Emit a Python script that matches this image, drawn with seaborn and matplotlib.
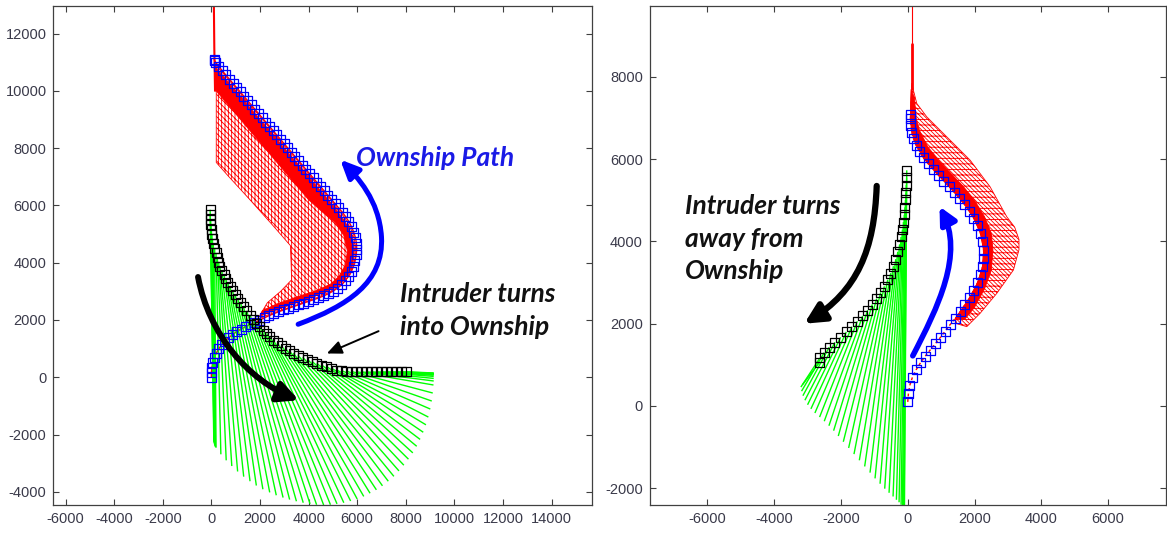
import numpy as np
import matplotlib
matplotlib.use("Agg")
import matplotlib.pyplot as plt
import seaborn as sns
from matplotlib.collections import LineCollection
from matplotlib.patches import FancyArrowPatch, Polygon
from matplotlib.path import Path

# ---------------- left panel: intruder turns into ownship ----------------
# ownship positions (blue squares)
own_l_x = [0, 0, 20, 60, 120, 200, 300, 420, 560, 710, 870, 1040, 1220, 1400, 1590,
           1780, 1975, 2170, 2370, 2570, 2775, 2980, 3185, 3390, 3595, 3800, 4005, 4210,
           4415, 4620, 4820, 5010, 5190, 5360, 5510, 5640, 5750, 5840, 5910, 5960, 5980,
           5970, 5930, 5860, 5770, 5660, 5530, 5390, 5240, 5090,
           4940, 4790, 4640, 4490, 4340, 4190, 4040, 3890, 3740, 3590, 3440, 3290, 3140,
           2990, 2840, 2690, 2540, 2390, 2240, 2090, 1940, 1790, 1640, 1490, 1340, 1190,
           1040, 890, 740, 590, 440, 300, 180, 130, 120]
own_l_y = [0, 170, 340, 510, 680, 840, 990, 1130, 1260, 1380, 1490, 1590, 1680, 1760, 1840,
           1910, 1990, 2070, 2150, 2220, 2290, 2350, 2410, 2470, 2530, 2590, 2650, 2710,
           2770, 2840, 2920, 3010, 3110, 3230, 3370, 3530, 3700, 3880, 4070, 4270, 4470,
           4670, 4870, 5060, 5250, 5430, 5600, 5760, 5910, 6060,
           6210, 6360, 6510, 6660, 6810, 6960, 7110, 7260, 7410, 7560, 7710, 7860, 8010,
           8160, 8310, 8460, 8610, 8760, 8910, 9060, 9210, 9360, 9510, 9660, 9810, 9960,
           10110, 10260, 10410, 10560, 10710, 10860, 10990, 11060, 11100]

# intruder positions (black squares)
intr_l_x = [-50, -45, -35, -20, 0, 20, 45, 80, 135, 190, 245, 300, 354, 430, 520, 600, 680,
            766, 870, 975, 1085, 1200, 1313, 1450, 1590, 1725, 1865, 2000, 2140, 2275, 2410,
            2548, 2713, 2878, 3043, 3208, 3372, 3565, 3757, 3950, 4142, 4335, 4540, 4747,
            4953, 5159, 5365, 5570, 5776, 5982, 6190, 6395, 6600, 6805, 7010, 7215, 7420,
            7625, 7830, 8040]
intr_l_y = [5850, 5680, 5510, 5340, 5170, 5000, 4830, 4660, 4500, 4340, 4180, 4020, 3860,
            3720, 3580, 3440, 3300, 3161, 3020, 2880, 2740, 2600, 2463, 2318, 2173, 2028,
            1883, 1766, 1650, 1533, 1416, 1299, 1206, 1113, 1021, 928, 835, 765, 695, 626,
            556, 486, 428, 370, 310, 252, 230, 212, 200, 192, 190, 190, 190, 190, 190, 190,
            190, 190, 190, 190]

# end points of the intruder projections (green lines), one per intruder position
green_l_x = [100, 110, 120, 130, 140, 150, 160, 170,
             190, 390, 610, 840, 1080, 1330, 1590, 1850, 2120, 2400, 2670, 2950, 3220, 3500,
             3780, 4060, 4330, 4620, 4900, 5170, 5450, 5730, 6000, 6270, 6530, 6790, 7040,
             7280, 7510, 7720, 7920, 8110, 8290, 8450, 8590, 8720, 8830, 8930, 9010, 9070,
             9110, 9140,
             9150, 9150, 9150, 9150, 9150, 9150, 9150, 9150, 9150, 9150]
green_l_y = [-2250, -2280, -2310, -2340, -2370, -2400, -2420, -2440,
             -2460, -2690, -2900, -3100, -3290, -3470, -3630, -3780, -3910, -4020, -4120,
             -4200, -4270, -4330, -4380, -4420, -4450, -4460, -4450, -4420, -4380, -4320,
             -4250, -4160, -4050, -3930, -3790, -3630, -3460, -3270, -3070, -2860, -2640,
             -2410, -2170, -1920, -1660, -1390, -1110, -830, -550, -270,
             -130, -40, 30, 70, 100, 110, 120, 130, 140, 150]

# ownship predicted-path envelope (red hatched area) and its dense core
red_l_x = [150, 1000, 2000, 3000, 4000, 5000, 5500, 5850, 5950, 5900, 5720, 5400, 5000,
           4400, 3700, 3000, 2400, 1900, 2300, 2850, 3300, 3280, 3250, 2500, 1500, 700,
           200, 200]
red_l_y = [10950, 10100, 9100, 8100, 7100, 6100, 5560, 5000, 4450, 3950, 3600, 3280, 3030,
           2800, 2580, 2380, 2200, 2020, 2600, 3000, 3400, 4000, 4600, 5330, 6280, 7020,
           7500, 10000]
core_l_x = [150, 1000, 2000, 3000, 4000, 5000, 5450, 5800, 5880, 5830, 5650, 5350, 4950,
            4400, 3700, 3000, 2400, 2000, 2100, 2700, 3500, 4300, 4900, 5250, 5500, 5600,
            5450, 5100, 4600, 4000, 3000, 2000, 1000, 200]
core_l_y = [10850, 10000, 9000, 8000, 7000, 6000, 5500, 4950, 4450, 3950, 3620, 3320, 3080,
            2880, 2660, 2450, 2270, 2130, 2330, 2560, 2800, 3020, 3250, 3520, 3900, 4400,
            4950, 5400, 5750, 6200, 7200, 8200, 9200, 10000]
red_top_l_x = [150, 120, 100]
red_top_l_y = [10000, 11500, 13200]

# ---------------- right panel: intruder turns away from ownship ----------------
own_r_x = [0, 20, 60, 140, 250, 380, 520, 670, 820, 970, 1120, 1270, 1420, 1570, 1710,
           1850, 1980, 2090, 2180, 2240, 2270, 2270, 2240, 2180, 2090, 1980, 1850, 1710,
           1560, 1400, 1240, 1080, 920, 760, 610, 470, 350, 250, 170, 120, 90, 80, 80]
own_r_y = [100, 300, 500, 700, 880, 1050, 1210, 1360, 1510, 1660, 1820, 1980, 2130, 2290,
           2460, 2630, 2810, 3000, 3190, 3390, 3590, 3790, 3990, 4190, 4380, 4560, 4730,
           4890, 5040, 5190, 5330, 5470, 5610, 5750, 5890, 6030, 6180, 6340, 6500, 6660,
           6820, 6980, 7080]

intr_r_x = [-30, -35, -45, -55, -70, -85, -105, -130, -160, -200, -245, -300, -360, -430,
            -510, -600, -700, -810, -930, -1060, -1200, -1350, -1510, -1670, -1840, -2010,
            -2180, -2350, -2500, -2630, -2650]
intr_r_y = [5730, 5550, 5370, 5190, 5010, 4830, 4650, 4470, 4290, 4110, 3930, 3750, 3570,
            3400, 3230, 3070, 2910, 2760, 2610, 2470, 2330, 2190, 2060, 1930, 1800, 1670,
            1550, 1430, 1300, 1170, 1050]

green_r_x = [-100, -110, -130, -160, -200, -260, -340, -440, -560, -690, -830, -980, -1130,
             -1290, -1450, -1610, -1770, -1930, -2080, -2220, -2360, -2500, -2640, -2780,
             -2900, -3000, -3080, -3140, -3180, -3200, -3150]
green_r_y = [-2600, -2550, -2500, -2450, -2400, -2340, -2280, -2200, -2110, -2010, -1890,
             -1760, -1620, -1470, -1320, -1170, -1020, -870, -730, -600, -480, -370, -270,
             -170, -70, 30, 140, 250, 360, 460, 520]

red_r_x = [1470, 1767, 2165, 2666, 3163, 3330, 3330, 3200, 2965, 2465, 1866, 1168, 569, 270,
           168, 120, 80, 80, 120, 250, 470, 760, 1080, 1400, 1710, 1980, 2180, 2270, 2240,
           2090, 1850, 1570, 1420]
red_r_y = [2000, 1929, 2253, 2739, 3305, 3800, 4050, 4350, 4600, 5329, 5978, 6544, 7030,
           7356, 7679, 7850, 7300, 6980, 6660, 6340, 6030, 5750, 5470, 5190, 4890, 4560,
           4190, 3790, 3390, 3000, 2630, 2290, 2130]
core_r_x = [1420, 1850, 2090, 2240, 2270, 2180, 1980, 1710, 1400, 1080, 760, 470, 250, 120,
            80, 100, 200, 250, 350, 600, 950, 1300, 1650, 2000, 2300, 2500, 2550, 2500, 2300,
            2000, 1700]
core_r_y = [2130, 2630, 3000, 3390, 3790, 4190, 4560, 4890, 5190, 5470, 5750, 6030, 6340,
            6660, 6980, 7700, 7500, 7000, 6700, 6300, 5950, 5650, 5350, 5000, 4600, 4200,
            3800, 3300, 2850, 2400, 2100]
red_top_r_x = [120, 120, 120]
red_top_r_y = [7700, 8800, 9900]

# ---------------- drawing ----------------
sns.set_style("ticks")
plt.rcParams["font.family"] = ["Liberation Sans", "DejaVu Sans"]
plt.rcParams["axes.unicode_minus"] = False
plt.rcParams["hatch.linewidth"] = 0.6
plt.rcParams["hatch.color"] = "red"

fig = plt.figure(figsize=(11.67, 5.36), dpi=100)
ax1 = fig.add_axes([0.0458, 0.0573, 0.4612, 0.9319])
ax2 = fig.add_axes([0.5569, 0.0576, 0.4422, 0.9316])

GREEN = "#00ff00"
BLUE = "#0000ff"


def fan(ax, sx, sy, ex, ey):
    segs = [[(a, b), (c, d)] for a, b, c, d in zip(sx, sy, ex, ey)]
    ax.add_collection(LineCollection(segs, colors=GREEN, linewidths=1.0, zorder=2))


def squares(ax, x, y, color, z):
    sns.scatterplot(x=x, y=y, ax=ax, marker="s", s=42, facecolor="none",
                    edgecolor=color, linewidth=0.9, zorder=z, legend=False)


def red_area(ax, hx, hy, cx, cy, hatch):
    ax.add_patch(Polygon(np.column_stack([hx, hy]), closed=True, facecolor="white",
                         edgecolor="red", hatch=hatch, linewidth=0.6, zorder=1))
    ax.add_patch(Polygon(np.column_stack([cx, cy]), closed=True, facecolor="red",
                         edgecolor="red", linewidth=0.6, zorder=1.2))


def curved_arrow(ax, verts, color, lw, hl, hw):
    codes = [Path.MOVETO] + [Path.CURVE4] * (len(verts) - 1)
    ax.add_patch(FancyArrowPatch(path=Path(verts, codes),
                                 arrowstyle=f"-|>,head_length={hl},head_width={hw}",
                                 color=color, lw=lw, mutation_scale=10, zorder=6))


def style(ax, xlim, ylim, xticks, yticks):
    ax.set_xlim(*xlim)
    ax.set_ylim(*ylim)
    ax.set_xticks(xticks)
    ax.set_yticks(yticks)
    ax.tick_params(direction="in", length=4, width=0.8, top=True, right=True,
                   labelsize=10.5, labelcolor="#3a3a4a", color="#404040", pad=5)
    for s in ax.spines.values():
        s.set_visible(True)
        s.set_color("#404040")
        s.set_linewidth(0.9)
    ax.set_xlabel("")
    ax.set_ylabel("")


text_kw = dict(family=["Lato", "DejaVu Sans"], fontweight="bold", fontstyle="italic",
               fontsize=19, ha="left", va="center", zorder=7, linespacing=1.44)

# left
red_area(ax1, red_l_x, red_l_y, core_l_x, core_l_y, "|||||" + "\\" * 6)
ax1.plot(red_top_l_x, red_top_l_y, color="red", lw=1.5, zorder=1.3)
ax1.plot(own_l_x, own_l_y, color="red", lw=1.0, zorder=1.4)
fan(ax1, intr_l_x, intr_l_y, green_l_x, green_l_y)
squares(ax1, own_l_x, own_l_y, BLUE, 4)
squares(ax1, intr_l_x, intr_l_y, "black", 5)
curved_arrow(ax1, [(3570, 1850), (5600, 2500), (7100, 3300), (7000, 4900),
                   (6900, 6200), (6000, 7000), (5300, 7600)], BLUE, 3.6, 1.1, 0.5)
curved_arrow(ax1, [(-550, 3500), (-100, 1500), (1500, -100), (3600, -800)],
             "black", 4.3, 1.2, 0.6)
ax1.annotate("", xy=(4750, 830), xytext=(6880, 1610),
             arrowprops=dict(arrowstyle="-|>,head_length=0.9,head_width=0.4",
                             mutation_scale=10, color="black", lw=1.4,
                             shrinkA=0, shrinkB=0), zorder=6)
ax1.text(5953, 7657, "Ownship Path", color="#1a1ae6", **text_kw)
ax1.text(7765, 2330, "Intruder turns\ninto Ownship", color="#111111", **text_kw)
style(ax1, (-6500, 15650), (-4470, 12970), np.arange(-6000, 14001, 2000),
      np.arange(-4000, 12001, 2000))

# right
red_area(ax2, red_r_x, red_r_y, core_r_x, core_r_y, "\\" * 8 + "---")
ax2.plot(red_top_r_x[:2], red_top_r_y[:2], color="red", lw=2.0, zorder=1.3)
ax2.plot(red_top_r_x[1:], red_top_r_y[1:], color="red", lw=0.8, zorder=1.3)
ax2.plot(own_r_x, own_r_y, color="red", lw=1.0, ls=(0, (2, 2)), zorder=1.4)
fan(ax2, intr_r_x, intr_r_y, green_r_x, green_r_y)
squares(ax2, own_r_x, own_r_y, BLUE, 4)
squares(ax2, intr_r_x, intr_r_y, "black", 5)
curved_arrow(ax2, [(-930, 5350), (-1000, 3800), (-1500, 2800), (-3100, 2000)],
             "black", 4.5, 1.2, 0.6)
curved_arrow(ax2, [(150, 1220), (900, 2400), (1700, 3700), (950, 4850)],
             BLUE, 4.0, 1.0, 0.5)
ax2.text(-6670, 4070, "Intruder turns\naway from\nOwnship", color="#111111", **text_kw)
style(ax2, (-7720, 7730), (-2410, 9730), np.arange(-6000, 6001, 2000),
      np.arange(-2000, 8001, 2000))

fig.savefig("out.png", dpi=100)
